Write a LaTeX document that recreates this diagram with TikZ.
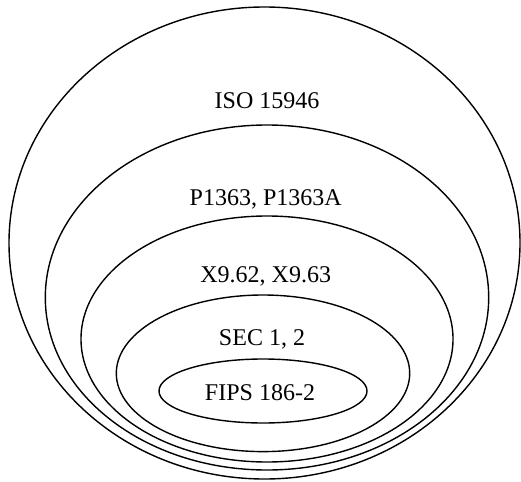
\documentclass[tikz,border=0pt]{standalone}
\usepackage{fontspec}
\setmainfont{Liberation Serif}
\begin{document}
\begin{tikzpicture}[x=1pt,y=-1pt,
  ring/.style={draw=black,line width=1.4pt},
  lbl/.style={font=\fontsize{24}{28}\selectfont,inner sep=0pt,anchor=center}]
\useasboundingbox (0,0) rectangle (521,481);
\draw[ring] (264.5,243) ellipse [x radius=255.5pt, y radius=236pt];
\draw[ring] (267,297.5) ellipse [x radius=221.7pt, y radius=172.5pt];
\draw[ring] (267,339) ellipse [x radius=186pt, y radius=123pt];
\draw[ring] (263,373.3) ellipse [x radius=146.7pt, y radius=78.3pt];
\draw[ring] (263,391) ellipse [x radius=104pt, y radius=32pt];
\node[lbl] (iso) at (267,101) {ISO 15946};
\node[lbl] (p1363) at (265.7,199) {P1363, P1363A};
\node[lbl] (x9) at (265.7,276) {X9.62, X9.63};
\node[lbl] (sec) at (262,339) {SEC 1, 2};
\node[lbl] (fips) at (260,392.5) {FIPS 186-2};
\end{tikzpicture}
\end{document}
